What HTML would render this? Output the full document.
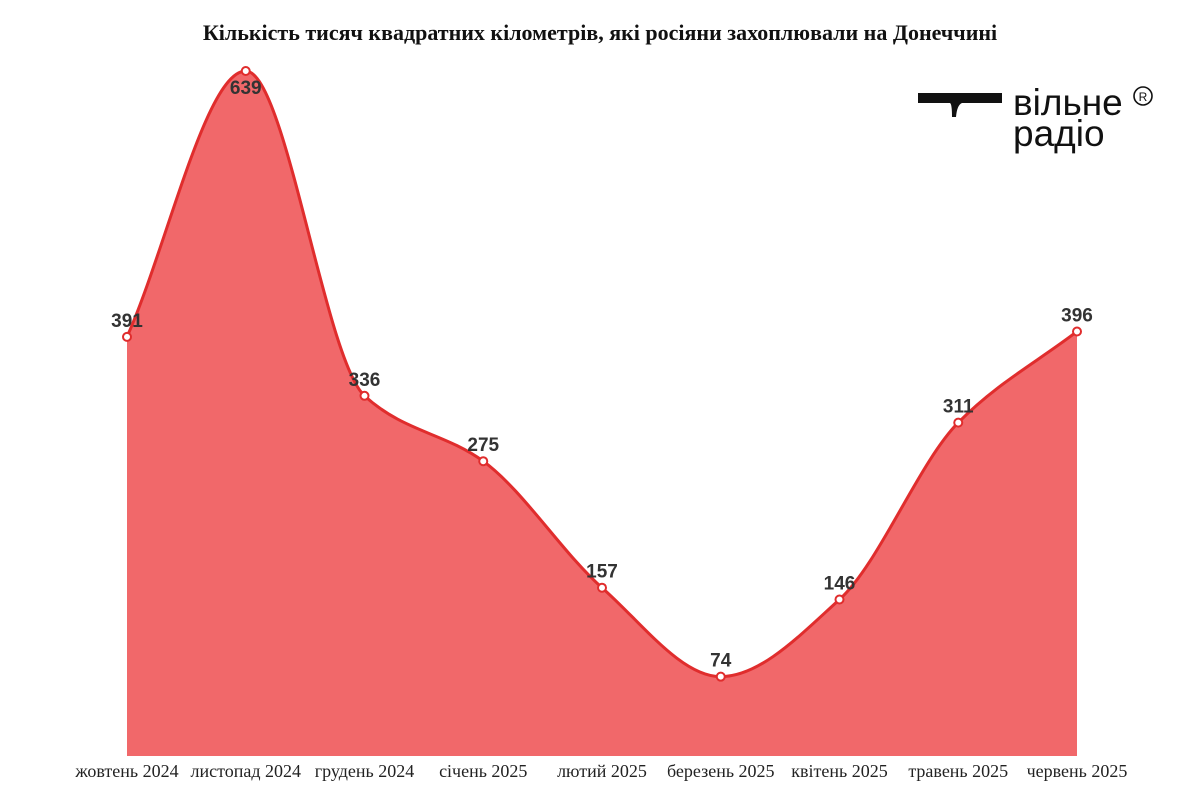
<!DOCTYPE html>
<html><head><meta charset="utf-8"><style>
body{margin:0;background:#fff;width:1200px;height:800px;overflow:hidden}
svg{display:block}
</style></head><body>
<svg id="chart" width="1200" height="800" xmlns="http://www.w3.org/2000/svg">
<text x="600" y="40" text-anchor="middle" font-family="Liberation Serif, serif" font-weight="bold" font-size="22" fill="#111">Кількість тисяч квадратних кілометрів, які росіяни захоплювали на Донеччині</text>
<g>
<path d="M918 93 H1002 V103 H962 Q957 105 956 117 H952 Q952 104 950 103 H918 Z" fill="#111"/>
<text x="1013" y="115" font-family="Liberation Sans, sans-serif" font-size="37" fill="#111">вільне</text>
<text x="1013" y="146" font-family="Liberation Sans, sans-serif" font-size="37" fill="#111">радіо</text>
<circle cx="1143" cy="96" r="9" fill="none" stroke="#111" stroke-width="1.6"/>
<text x="1143" y="101" text-anchor="middle" font-family="Liberation Sans, sans-serif" font-size="12" fill="#111">R</text>
</g>
<g id="plot"></g>
</svg>
<script>
const categories=["жовтень 2024","листопад 2024","грудень 2024","січень 2025","лютий 2025","березень 2025","квітень 2025","травень 2025","червень 2025"];
const values=[391,639,336,275,157,74,146,311,396];
const X0=127,X1=1077,BASE=756,TOPY=71,MAXV=639;
function xs(i){return X0+i*(X1-X0)/(categories.length-1);}
function ys(v){return BASE-v*(BASE-TOPY)/MAXV;}
const ns="http://www.w3.org/2000/svg";
const plot=document.getElementById('plot');
const P=values.map((v,i)=>[xs(i),ys(v)]);
const n=P.length,d=[],m=[];
for(let i=0;i<n-1;i++)d.push((P[i+1][1]-P[i][1])/(P[i+1][0]-P[i][0]));
m[0]=d[0];m[n-1]=d[n-2];
for(let i=1;i<n-1;i++){m[i]=(d[i-1]*d[i]<=0)?0:2/((1/d[i-1])+(1/d[i]));}
let line="M"+P[0][0]+","+P[0][1];
for(let i=0;i<n-1;i++){const h=(P[i+1][0]-P[i][0])/3;
line+=" C"+(P[i][0]+h)+","+(P[i][1]+m[i]*h)+" "+(P[i+1][0]-h)+","+(P[i+1][1]-m[i+1]*h)+" "+P[i+1][0]+","+P[i+1][1];}
const area=document.createElementNS(ns,'path');
area.setAttribute('d',line+" L"+P[n-1][0]+","+BASE+" L"+P[0][0]+","+BASE+" Z");
area.setAttribute('fill','#f1686a');


plot.appendChild(area);
const ln=document.createElementNS(ns,'path');
ln.setAttribute('d',line);ln.setAttribute('fill','none');ln.setAttribute('stroke','#e02d2d');ln.setAttribute('stroke-width','3');


plot.appendChild(ln);
P.forEach((p,i)=>{
const c=document.createElementNS(ns,'circle');
c.setAttribute('cx',p[0]);c.setAttribute('cy',p[1]);c.setAttribute('r','4');c.setAttribute('fill','#fff');c.setAttribute('stroke','#e02d2d');c.setAttribute('stroke-width','2');


plot.appendChild(c);
const t=document.createElementNS(ns,'text');
const below=(i===1);
t.setAttribute('x',p[0]);t.setAttribute('y',below?p[1]+23:p[1]-10);
t.setAttribute('text-anchor','middle');t.setAttribute('font-family','Liberation Sans, sans-serif');t.setAttribute('font-weight','bold');t.setAttribute('font-size','19');t.setAttribute('fill','#333');
t.textContent=values[i];


plot.appendChild(t);
const a=document.createElementNS(ns,'text');
a.setAttribute('x',p[0]);a.setAttribute('y',777);a.setAttribute('text-anchor','middle');a.setAttribute('font-family','Liberation Serif, serif');a.setAttribute('font-size','18');a.setAttribute('fill','#222');
a.textContent=categories[i];


plot.appendChild(a);
});
</script>
</body></html>
